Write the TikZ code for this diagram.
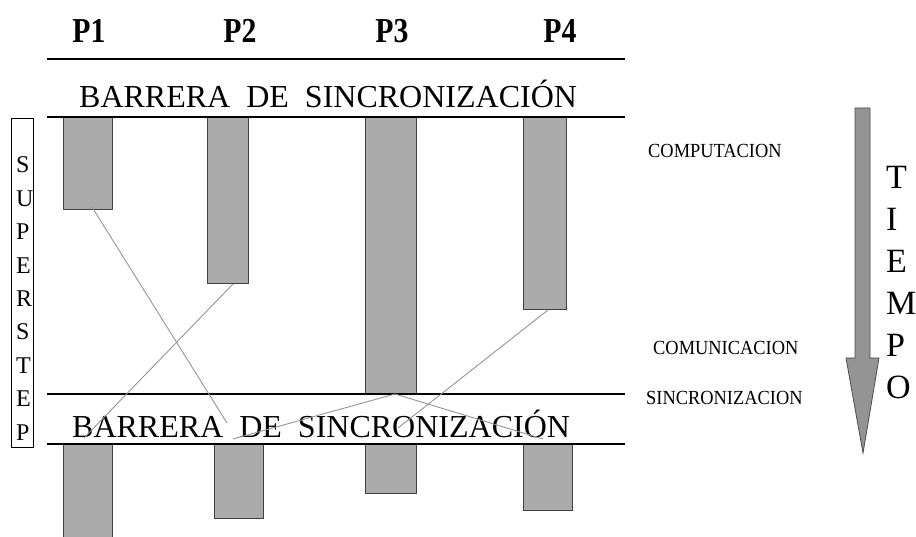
\documentclass[tikz,border=0pt]{standalone}
\usepackage{fontspec}
\setmainfont{Liberation Serif}
\newfontfamily\pfont[FakeStretch=0.85]{Liberation Serif}
\newfontfamily\lfont[FakeStretch=0.92]{Liberation Serif}
\begin{document}
\begin{tikzpicture}[x=1pt,y=-1pt,
  bar/.style={draw=black!75,fill=black!33,line width=1pt,inner sep=0pt,anchor=north west},
  barrier/.style={draw=black,line width=1.1pt},
  msg/.style={draw=black!42,line width=0.9pt},
  plabel/.style={font=\pfont\bfseries\fontsize{35}{35}\selectfont,anchor=base,inner sep=0pt},
  btext/.style={font=\fontsize{32}{32}\selectfont,anchor=base west,inner sep=0pt},
  slabel/.style={font=\lfont\fontsize{20}{20}\selectfont,anchor=west,inner sep=0pt},
  vletter/.style={anchor=west,inner sep=0pt}]
\useasboundingbox (0,0) rectangle (916,537);
% process labels
\node[plabel] (p1) at (89,43) {P1};
\node[plabel] (p2) at (240,43) {P2};
\node[plabel] (p3) at (392,43) {P3};
\node[plabel] (p4) at (560,43) {P4};
% barrier lines
\coordinate (l1a) at (47,59);  \coordinate (l1b) at (625,59);
\coordinate (l2a) at (47,117); \coordinate (l2b) at (625,117);
\coordinate (l3a) at (47,394); \coordinate (l3b) at (625,394);
\coordinate (l4a) at (47,444); \coordinate (l4b) at (625,444);
% bars (upper superstep)
\node[bar,minimum width=49,minimum height=92]  (b1) at (63,117) {};
\node[bar,minimum width=41,minimum height=166] (b2) at (207,117) {};
\node[bar,minimum width=51,minimum height=276] (b3) at (365,117) {};
\node[bar,minimum width=43,minimum height=192] (b4) at (523,117) {};
% bars (next superstep)
\node[bar,minimum width=49,minimum height=100] (c1) at (63,444) {};
\node[bar,minimum width=49,minimum height=74]  (c2) at (214,444) {};
\node[bar,minimum width=51,minimum height=49]  (c3) at (365,444) {};
\node[bar,minimum width=49,minimum height=66]  (c4) at (523,444) {};
\draw[barrier] (l1a) -- (l1b);
\draw[barrier] (l2a) -- (l2b);
\draw[barrier] (l3a) -- (l3b);
\draw[barrier] (l4a) -- (l4b);
% barrier texts
\node[btext] (t1) at (79,108) {BARRERA~~DE~~SINCRONIZACIÓN};
\node[btext] (t2) at (72,437) {BARRERA~~DE~~SINCRONIZACIÓN};
% message lines
\coordinate (e1) at (227,423);
\coordinate (e2) at (84,438);
\coordinate (e3) at (233,439);
\coordinate (e4) at (543,439);
\coordinate (e5) at (398,428);
\draw[msg] ([xshift=4pt,yshift=3pt]b1.south) -- (e1);
\draw[msg] ([xshift=5pt]b2.south) -- (e2);
\draw[msg] ([xshift=4pt]b3.south) -- (e3);
\draw[msg] ([xshift=4pt]b3.south) -- (e4);
\draw[msg] ([xshift=3pt]b4.south) -- (e5);
% superstep box
\node[draw=black,line width=1pt,minimum width=22,minimum height=329,anchor=north west,inner sep=0pt] (ssbox) at (11,118) {};
\foreach \l [count=\i] in {S,U,P,E,R,S,T,E,P}
  \node[vletter,font=\fontsize{24}{24}\selectfont] (ss\i) at (16,{165+(\i-1)*33.4}) {\l};
% phase labels
\node[slabel] (comp) at (648,151) {COMPUTACION};
\node[slabel] (comu) at (653,348) {COMUNICACION};
\node[slabel] (sinc) at (646,398) {SINCRONIZACION};
% time arrow
\draw[fill=black!42,draw=black!70,line width=0.8pt]
  (855,108) -- (870,108) -- (870,358) -- (879,358) -- (863,453) -- (846,358) -- (855,358) -- cycle;
\foreach \l [count=\i] in {T,I,E,M,P,O}
  \node[vletter,font=\fontsize{34}{34}\selectfont] (tt\i) at (886,{177+(\i-1)*42}) {\l};
\end{tikzpicture}
\end{document}
